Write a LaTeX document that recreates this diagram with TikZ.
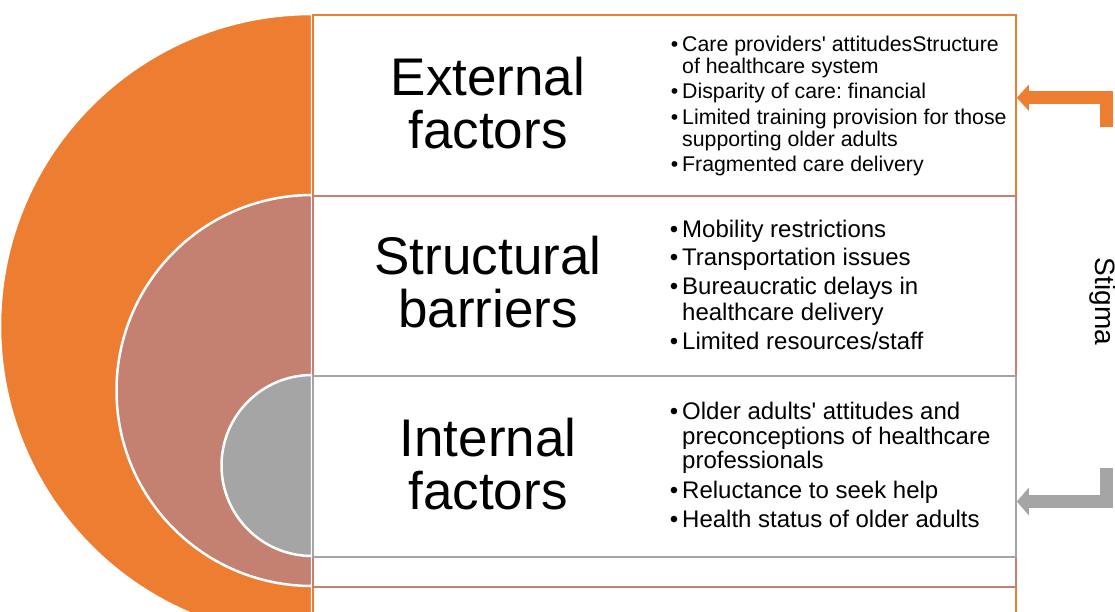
\documentclass[tikz,border=0pt]{standalone}
\usepackage{fontspec}
\setmainfont{Liberation Sans}
\usetikzlibrary{arrows.meta}
\frenchspacing

\definecolor{extorange}{HTML}{ED7D31}
\definecolor{strbrown}{HTML}{C48070}
\definecolor{intgrey}{HTML}{A5A5A5}

\tikzset{
  band/.style={draw=white, line width=2.5pt},
  panel/.style={draw=#1, fill=white, line width=1.8pt, minimum width=703pt, inner sep=0pt, anchor=north west},
  title/.style={align=center, font=\fontsize{53}{53.5}\selectfont, inner sep=0pt},
  bullets/.style={align=left, anchor=north west, inner sep=0pt},
}
\newcommand{\bit}{\llap{•\hspace{4pt}}}
\newcommand{\apos}{\textquotesingle}

\begin{document}
\begin{tikzpicture}[x=1pt, y=1pt]
\useasboundingbox (0,0) rectangle (1115,-612);
\clip (0,0) rectangle (1115,-612);
% Half discs
\filldraw[fill=extorange, band] (312,-14) arc[start angle=90, end angle=270, radius=312] -- cycle;
\filldraw[fill=strbrown, band] (312,-195) arc[start angle=90, end angle=270, radius=195.5] -- cycle;
\filldraw[fill=intgrey, band] (312,-375) arc[start angle=90, end angle=270, radius=90.5] -- cycle;
% Panels
\node[panel=extorange, minimum height=624pt] (extbox) at (312,-14) {};
\node[panel=strbrown, minimum height=391pt] (strbox) at (312,-195) {};
\node[panel=intgrey, minimum height=181pt] (intbox) at (312,-375) {};
% Titles
\node[title] (exttitle) at (488,-103) {External\\factors};
\node[title] (strtitle) at (488,-282) {Structural\\barriers};
\node[title] (inttitle) at (488,-464) {Internal\\factors};
% Lists
\node[bullets, font=\fontsize{21.3}{22}\selectfont] (extlist) at (682,-35.8) {\bit Care providers\apos{} attitudesStructure\\of healthcare system\\[3.5pt]\bit Disparity of care: financial\\[3.5pt]\bit Limited training provision for those\\supporting older adults\\[3.5pt]\bit Fragmented care delivery};
\node[bullets, font=\fontsize{24}{26}\selectfont] (strlist) at (682,-219.5) {\bit Mobility restrictions\\[2.7pt]\bit Transportation issues\\[2.7pt]\bit Bureaucratic delays in\\healthcare delivery\\[2.7pt]\bit Limited resources/staff};
\node[bullets, font=\fontsize{24}{24.5}\selectfont] (intlist) at (682,-402.3) {\bit Older adults\apos{} attitudes and\\preconceptions of healthcare\\professionals\\[5pt]\bit Reluctance to seek help\\[5pt]\bit Health status of older adults};
% Stigma
\node[rotate=-90, anchor=base, font=\fontsize{28}{30}\selectfont, inner sep=0pt] (stigma) at (1095,-301.5) {Stigma};
\coordinate (stigtop) at (1106.5,-127);
\coordinate (stigbot) at (1106.5,-468);
% Arrows
\draw[extorange, line width=12.5pt, -{Triangle[length=12pt, width=25.5pt]}] (stigtop) |- (extbox.east |- 0,-97.75);
\draw[intgrey, line width=13pt, -{Triangle[length=12pt, width=27pt]}] (stigbot) |- (intbox.east |- 0,-501.5);
\end{tikzpicture}
\end{document}
